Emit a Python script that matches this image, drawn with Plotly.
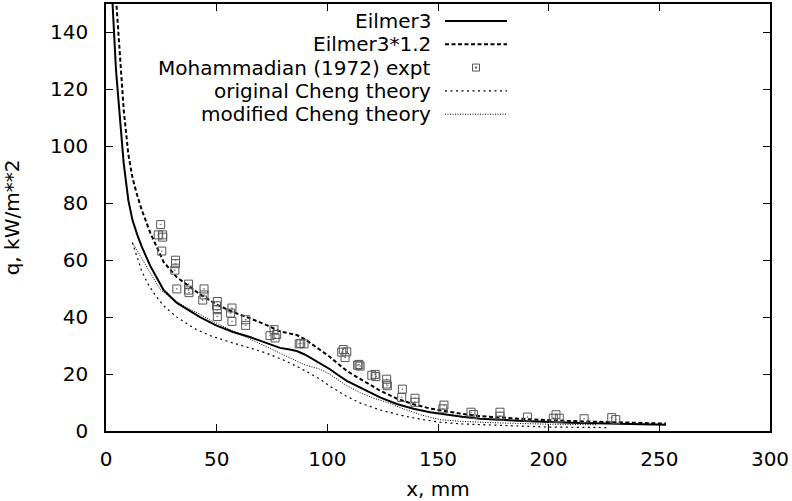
import plotly.graph_objects as go

# ---- data ----
eilmer_x = [1.5, 2.8, 4.5, 6.3, 8, 10.1, 12, 14.1, 16, 20, 26, 32, 42.5, 50, 57.4, 65, 72.6, 78.6, 83, 86.2,
            90, 93.7, 97.5, 101.2, 105, 108.8, 116.3, 123.8, 131.4, 138.9, 146.4, 153.9, 161, 169, 180, 191.6,
            210, 230, 253]
eilmer_y = [172, 150.5, 127, 110, 94, 81, 74, 69, 65, 58, 49.5, 45, 40, 37, 34.8, 33, 31, 29.2, 28.6, 28.1,
            26.8, 25.2, 23.5, 21.7, 19.6, 17.6, 14.7, 11.8, 9.5, 7.8, 6.6, 5.7, 5.0, 4.3, 3.8, 3.4,
            2.9, 2.5, 2.2]

eilmer12_x = eilmer_x
eilmer12_y = [206.4, 180.6, 152.4, 132, 112.8, 97.2, 88.8, 82.8, 78, 69.6, 59.4, 54, 48, 44.4, 41.8, 39.6, 37.2,
              35, 34.3, 33.7, 32.2, 30.2, 28.2, 26, 23.5, 21.1, 17.6, 14.2, 11.4, 9.4, 7.9, 6.8, 6, 5.2, 4.6,
              4.1, 3.5, 3, 2.6]

expt_x = [24.7, 23.6, 25.6, 25.6, 25.2, 31.4, 31.4, 31.1, 32, 37.3, 37.3, 37.5, 44.3, 44.3, 43.7, 50.3, 49.9,
          50.3, 50.3, 56.9, 56.3, 56.9, 63.1, 63.1, 75.9, 74.1, 76.4, 77.1, 87.3, 88, 89.5, 107.2, 106.5,
          108.8, 108, 114.3, 114.8, 113.7, 121.6, 120.1, 121.9, 126.8, 126.8, 127.1, 133.9, 133.6, 139.6,
          139.6, 152.7, 152.2, 164.9, 166, 178, 178, 190.4, 203.3, 202.1, 204.8, 216, 228.5, 230.3]
expt_y = [72.5, 68.9, 68.9, 68.1, 63.2, 60, 58.8, 56.5, 49.9, 51.6, 49.5, 48.6, 49.9, 47.8, 46, 45.5, 44,
          42.6, 40.2, 43.2, 41.4, 38.5, 39.1, 37.1, 35.6, 33.5, 32.7, 33.9, 30.6, 30.8, 30.6, 28.6, 27.7,
          27.8, 25.8, 23.4, 22.8, 23.1, 19.9, 19.6, 19.1, 18.2, 16.5, 15.9, 14.7, 11.8, 11.5,
          10.1, 9.1, 7.8, 6.6, 5.8, 6.6, 5.2, 4.9, 5.7, 4.5, 4.5, 4.3, 4.7, 4.0]

orig_x = [11.9, 14, 16, 18.7, 22, 26, 32, 40, 47, 55, 65, 72, 80, 88, 96.7, 101.2, 108, 115, 123.8, 126.8,
          135, 143, 151, 160, 175, 199, 227]
orig_y = [66.2, 61, 56.5, 52, 48, 44, 40, 36, 33.5, 31.5, 29, 27.5, 25, 22, 18.2, 15.7, 12.5, 9.8, 7.4, 6.8,
          5.2, 4, 3.1, 2.5, 2, 1.4, 1.2]

mod_x = [12.5, 14.1, 17, 20, 24.7, 30, 36, 42.5, 47, 55, 62, 70, 78.6, 85, 90, 96.7, 101.2, 108, 115, 121,
         126.8, 135, 143, 150.9, 160, 175, 199, 222]
mod_y = [65.5, 63.5, 59.5, 55.5, 49.5, 46.5, 43.5, 41, 39, 36, 33.5, 30.5, 27.5, 25, 23.2, 21.7, 19.9, 16.3,
         13.4, 11.5, 10.1, 7.6, 5.5, 4.0, 3.4, 2.9, 2.4, 2.2]

x_ticks = [0, 50, 100, 150, 200, 250, 300]
y_ticks = [0, 20, 40, 60, 80, 100, 120, 140]

legend_names = ["Eilmer3", "Eilmer3*1.2", "Mohammadian (1972) expt", "original Cheng theory",
                "modified Cheng theory"]

# ---- styles ----
FONT = "DejaVu Sans"
S_SOLID = dict(color="black", width=2, dash="solid")
S_DASH = dict(color="black", width=2, dash="4px,2.5px")
S_ORIG = dict(color="black", width=1.2, dash="2px,3.5px")
S_MOD = dict(color="black", width=1, dash="1px,1.5px")
MARK_COLOR = "#555555"

fig = go.Figure()
fig.add_trace(go.Scatter(x=eilmer_x, y=eilmer_y, mode="lines", line=S_SOLID, name=legend_names[0]))
fig.add_trace(go.Scatter(x=eilmer12_x, y=eilmer12_y, mode="lines", line=S_DASH, name=legend_names[1]))
fig.add_trace(go.Scatter(x=expt_x, y=expt_y, mode="markers", name=legend_names[2],
                         marker=dict(symbol="square-open-dot", size=8, color=MARK_COLOR,
                                     line=dict(width=1, color=MARK_COLOR))))
fig.add_trace(go.Scatter(x=orig_x, y=orig_y, mode="lines", line=S_ORIG, name=legend_names[3]))
fig.add_trace(go.Scatter(x=mod_x, y=mod_y, mode="lines", line=S_MOD, name=legend_names[4]))

# ---- manual gnuplot-style legend (text right, sample left) ----
L, R, T, B = 106, 22, 2, 69
W, H = 792, 501
pw, ph = W - L - R, H - T - B

def px2paper_x(px):
    return (px - L) / pw

def px2paper_y(py):
    return (H - B - py) / ph

rows = [19, 42.5, 66, 89.5, 113]
styles = [S_SOLID, S_DASH, None, S_ORIG, S_MOD]
text_right = px2paper_x(433)
s0, s1 = px2paper_x(445), px2paper_x(507)
for name, ry, st in zip(legend_names, rows, styles):
    fig.add_annotation(x=text_right, y=px2paper_y(ry), xref="paper", yref="paper", text=name,
                       showarrow=False, xanchor="right", yanchor="middle",
                       font=dict(family=FONT, size=20, color="black"))
    if st is not None:
        fig.add_shape(type="line", xref="paper", yref="paper", x0=s0, x1=s1,
                      y0=px2paper_y(ry), y1=px2paper_y(ry), line=st)
    else:
        cx, cy = px2paper_x(476), px2paper_y(ry)
        fig.add_shape(type="rect", xref="paper", yref="paper", xsizemode="pixel", ysizemode="pixel",
                      xanchor=cx, yanchor=cy, x0=-3.5, x1=3.5, y0=-3.5, y1=3.5,
                      line=dict(color=MARK_COLOR, width=1))
        fig.add_shape(type="rect", xref="paper", yref="paper", xsizemode="pixel", ysizemode="pixel",
                      xanchor=cx, yanchor=cy, x0=-0.6, x1=0.6, y0=-0.6, y1=0.6,
                      line=dict(color=MARK_COLOR, width=1), fillcolor=MARK_COLOR)

axis_common = dict(showgrid=False, zeroline=False, showline=True, linecolor="black", linewidth=1.5,
                   mirror="allticks", ticks="inside", ticklen=7, tickwidth=1.2, tickcolor="black",
                   tickfont=dict(family=FONT, size=20, color="black"))

fig.update_layout(
    width=W, height=H,
    margin=dict(l=L, r=R, t=T, b=B),
    paper_bgcolor="white", plot_bgcolor="white",
    showlegend=False,
    xaxis=dict(range=[0, 300], tickvals=x_ticks, ticktext=[str(v) for v in x_ticks],
               ticklabelstandoff=9,
               title=dict(text="x, mm", font=dict(family=FONT, size=20, color="black"), standoff=14),
               **axis_common),
    yaxis=dict(range=[0, 150], tickvals=y_ticks, ticktext=[str(v) for v in y_ticks],
               ticklabelstandoff=12,
               title=dict(text="q, kW/m**2", font=dict(family=FONT, size=20, color="black"), standoff=25),
               **axis_common),
)

fig.write_html("out.html", config={"displayModeBar": False},
               post_script="document.body.style.margin='0';")
